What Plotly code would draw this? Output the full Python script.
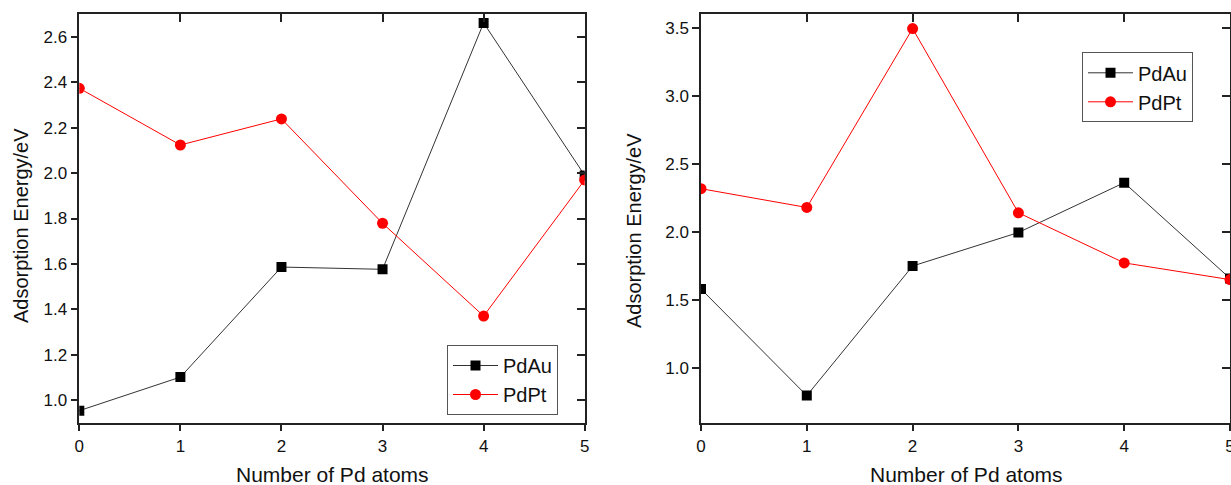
import plotly.graph_objects as go

# ---- data ----
n_pd = [0, 1, 2, 3, 4, 5]

left_pdau = [0.953, 1.101, 1.586, 1.576, 2.662, 1.99]
left_pdpt = [2.374, 2.124, 2.239, 1.779, 1.370, 1.970]

right_pdau = [1.582, 0.799, 1.751, 1.997, 2.363, 1.66]
right_pdpt = [2.319, 2.181, 3.495, 2.142, 1.774, 1.651]

x_ticks = [0, 1, 2, 3, 4, 5]
left_y_ticks = [1.0, 1.2, 1.4, 1.6, 1.8, 2.0, 2.2, 2.4, 2.6]
right_y_ticks = [1.0, 1.5, 2.0, 2.5, 3.0, 3.5]

x_title = "Number of Pd atoms"
y_title = "Adsorption Energy/eV"

# ---- figure geometry (pixels of the screenshot) ----
W, H = 1231, 485
def px(x):
    return x / W
def py(y):
    return (H - y) / H

FONT = "Liberation Sans, Arial, sans-serif"

fig = go.Figure()

def add_series(xa, ya, yau, ypt, legend):
    fig.add_trace(go.Scatter(
        x=n_pd, y=yau, name="PdAu", mode="lines+markers",
        xaxis=xa, yaxis=ya, legend=legend,
        line=dict(color="#333333", width=1),
        marker=dict(symbol="square", size=10, color="#000000"),
    ))
    fig.add_trace(go.Scatter(
        x=n_pd, y=ypt, name="PdPt", mode="lines+markers",
        xaxis=xa, yaxis=ya, legend=legend,
        line=dict(color="#ff0000", width=1),
        marker=dict(symbol="circle", size=11, color="#ff0000"),
    ))

add_series("x", "y", left_pdau, left_pdpt, "legend")
add_series("x2", "y2", right_pdau, right_pdpt, "legend2")

# dummy traces to activate mirror axes (top / right with inside ticks)
fig.add_trace(go.Scatter(x=[], y=[], xaxis="x3", yaxis="y3", showlegend=False, hoverinfo="skip"))
fig.add_trace(go.Scatter(x=[], y=[], xaxis="x4", yaxis="y4", showlegend=False, hoverinfo="skip"))

left_dom = [px(79.3), px(584.7)]
right_dom = [px(701), px(1230.0)]
ydom = [py(422.7), py(14.3)]

axis_common = dict(
    showline=True, linecolor="#222222", linewidth=1.5,
    showgrid=False, zeroline=False,
    tickcolor="#222222", tickwidth=1.5, ticklen=7,
    tickfont=dict(family=FONT, size=17, color="#111111"),
    automargin=False,
)

x_ax = dict(axis_common, range=[0, 5], tickvals=x_ticks, ticks="outside",
            ticklabeloverflow="allow")
fig.update_layout(
    xaxis=dict(x_ax, domain=left_dom, anchor="y"),
    yaxis=dict(axis_common, domain=ydom, anchor="x", range=[0.9, 2.7],
               tickvals=left_y_ticks, tickformat=".1f", ticks="outside"),
    xaxis2=dict(x_ax, domain=right_dom, anchor="y2"),
    yaxis2=dict(axis_common, domain=ydom, anchor="x2", range=[0.6, 3.6],
                tickvals=right_y_ticks, tickformat=".1f", ticks="outside"),
    # mirrored axes, inside ticks
    xaxis3=dict(axis_common, overlaying="x", side="top", anchor="y", range=[0, 5],
                tickvals=x_ticks, ticks="inside", showticklabels=False, ticklen=8),
    yaxis3=dict(axis_common, overlaying="y", side="right", anchor="x", range=[0.9, 2.7],
                tickvals=left_y_ticks, ticks="inside", showticklabels=False, ticklen=8),
    xaxis4=dict(axis_common, overlaying="x2", side="top", anchor="y2", range=[0, 5],
                tickvals=x_ticks, ticks="inside", showticklabels=False, ticklen=8),
    yaxis4=dict(axis_common, overlaying="y2", side="right", anchor="x2", range=[0.6, 3.6],
                tickvals=right_y_ticks, ticks="inside", showticklabels=False, ticklen=8),
)

legend_common = dict(
    bgcolor="white", bordercolor="#555555", borderwidth=1,
    font=dict(family=FONT, size=20, color="#111111"),
    xanchor="left", yanchor="top", itemwidth=45,
    tracegroupgap=0,
)
fig.update_layout(
    legend=dict(legend_common, x=px(447), y=py(345)),
    legend2=dict(legend_common, x=px(1082), y=py(52.3)),
)

annotations = [
    dict(text=x_title, x=px(332), y=py(474.5), xanchor="center", yanchor="middle",
         font=dict(family=FONT, size=21, color="#111111")),
    dict(text=x_title, x=px(966), y=py(474.5), xanchor="center", yanchor="middle",
         font=dict(family=FONT, size=21, color="#111111")),
    dict(text=y_title, x=px(21), y=py(226), xanchor="center", yanchor="middle", textangle=-90,
         font=dict(family=FONT, size=20, color="#111111")),
    dict(text=y_title, x=px(634), y=py(231), xanchor="center", yanchor="middle", textangle=-90,
         font=dict(family=FONT, size=20, color="#111111")),
]
for a in annotations:
    a.update(xref="paper", yref="paper", showarrow=False)

fig.update_layout(
    width=W, height=H,
    margin=dict(l=0, r=0, t=0, b=0),
    paper_bgcolor="white", plot_bgcolor="white",
    template="none",
    annotations=annotations,
    showlegend=True,
)

# remove the default page margin so the figure fills the 1231x485 window exactly
fig.write_html(
    "out.html",
    config={"displayModeBar": False},
    post_script="document.documentElement.style.overflow='hidden';"
                "document.body.style.margin='0';document.body.style.overflow='hidden';",
)
